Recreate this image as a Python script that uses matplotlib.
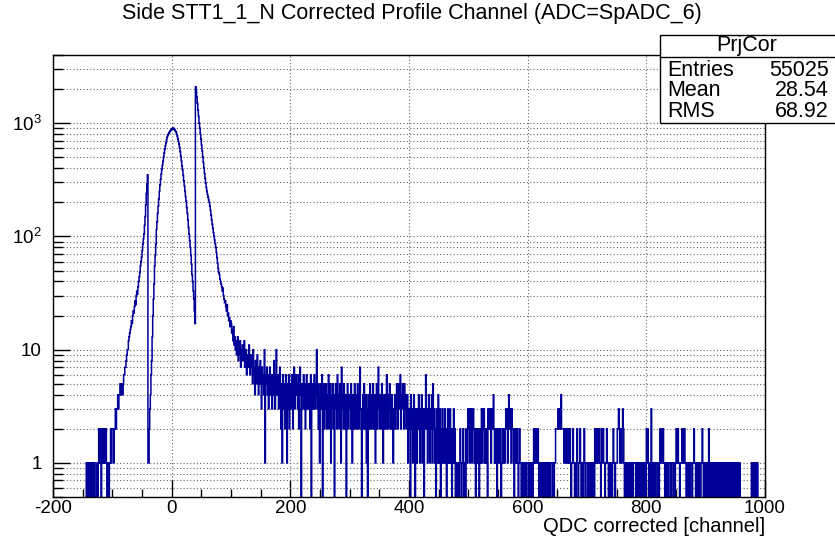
import matplotlib
matplotlib.use("Agg")
import matplotlib.pyplot as plt
import matplotlib.patches as patches
from matplotlib.ticker import MultipleLocator, LogLocator, FixedLocator, FixedFormatter, NullFormatter
import numpy as np

plt.rcParams['font.family'] = ['Liberation Sans', 'DejaVu Sans']
plt.rcParams['axes.unicode_minus'] = False

title = "Side STT1_1_N Corrected Profile Channel (ADC=SpADC_6)"
xlabel = "QDC corrected [channel]"
stat_name = "PrjCor"
stat_labels = ["Entries", "Mean", "RMS"]
stat_values = ["55025", "28.54", "68.92"]

# histogram starts at channel -150, one channel per bin
first_bin = -150
counts_peak = [
    0, 0, 0, 0, 0, 0, 1, 0, 1, 1,
    0, 1, 1, 0, 1, 0, 1, 1, 0, 1,
    1, 0, 0, 0, 1, 0, 1, 2, 1, 2,
    2, 0, 2, 1, 2, 2, 1, 2, 1, 2,
    1, 0, 1, 1, 0, 1, 1, 2, 1, 2,
    2, 2, 1, 2, 2, 3, 2, 3, 3, 4,
    3, 4, 4, 5, 4, 5, 5, 4, 5, 6,
    6, 7, 7, 8, 9, 10, 10, 12, 13, 14,
    15, 16, 18, 17, 20, 22, 21, 24, 27, 25,
    30, 33, 31, 36, 40, 44, 48, 55, 60, 66,
    75, 85, 95, 105, 125, 150, 190, 240, 290, 350,
    1, 1, 2, 3, 4, 6, 8, 13, 20, 28,
    38, 55, 68, 85, 115, 135, 160, 185, 215, 250,
    285, 320, 355, 390, 425, 460, 500, 545, 590, 630,
    670, 715, 750, 780, 800, 820, 835, 850, 865, 880,
    890, 900, 905, 900, 885, 865, 850, 835, 800, 770,
    730, 690, 650, 610, 560, 510, 465, 420, 385, 345,
    310, 280, 250, 225, 205, 180, 160, 140, 120, 105,
    92, 80, 68, 57, 46, 40, 33, 28, 22, 17,
    2100, 1900, 1700, 1500, 1300, 1150, 1000, 900, 800, 720,
    640, 570, 505, 450, 400, 360, 325, 295, 270, 250,
    235, 222, 210, 200, 185, 170, 155, 140, 128, 118,
    108, 100, 93, 86, 80, 72, 65, 58, 52, 48,
    46, 42, 40, 38, 36, 33, 35, 30, 28, 26,
    27, 24, 22, 25, 20, 21, 18, 19, 16, 18,
]
counts_mid = [
    17, 14, 15, 12, 16, 11, 13, 10, 12, 9,
    11, 13, 8, 10, 9, 12, 7, 10, 8, 11,
    9, 8, 12, 7, 9, 10, 6, 8, 9, 7,
    11, 8, 6, 9, 7, 8, 5, 10, 6, 7,
    4, 8, 6, 5, 9, 6, 4, 7, 5, 8,
    6, 3, 7, 5, 6, 4, 10, 1, 6, 5,
    7, 4, 6, 3, 5, 7, 4, 6, 5, 3,
    6, 4, 8, 5, 3, 6, 10, 4, 5, 6,
    3, 5, 7, 4, 2, 5, 1, 6, 4, 3,
    5, 2, 6, 4, 1, 5, 3, 6, 2, 4,
]
# channels 200..999, one hex digit per bin
counts_tail = (
    "5364257346" "4536247503" "5463524635" "4352604534" "6354a35241"
    "5346035243" "5243623514" "3524035426" "3425317342" "5324035243"
    "4253142352" "3425324732" "0342532413" "0423524325" "3241352473"
    "2432531423" "4263243523" "2431324235" "4253462435" "4253423412"
    "3204231242" "0321324213" "2413203263" "2134213241" "5231203214"
    "2130213212" "3120231213" "2102131201" "1011012101" "1201102113"
    "3213231232" "1201212102" "1231323121" "2103232312" "3242121202"
    "2112101211" "2123231242" "3213221021" "2121012110" "1011011011"
    "1010110101" "2121221210" "1011010110" "1010110101" "1101011222"
    "2322324222" "2122122121" "1210112110" "1012101121" "0110121011"
    "1011010110" "1102121211" "2110212211" "0112110110" "1101211011"
    "1223211212" "3210110110" "1011011011" "1101101101" "0110110110"
    "2121011031" "1011011101" "1012122121" "1011011011" "1011101101"
    "2212110111" "2121211011" "0110111011" "2110110110" "1011210110"
    "1011021010" "1101010010" "1010010101" "0010100101" "0100101001"
    "0100100100" "0000000000" "0000000101" "1011010100" "0000000000"
)

counts = np.array(counts_peak + counts_mid + [int(c, 16) for c in counts_tail], dtype=float)
edges = np.arange(first_bin, first_bin + len(counts) + 1)

W, H = 835, 537
fig = plt.figure(figsize=(W / 100, H / 100), dpi=100)
ax = fig.add_axes([53 / W, 1 - 497 / H, (765 - 53) / W, (497 - 55) / H])

# empty bins fall below the frame like ROOT does on a log axis
ax.stairs(np.where(counts > 0, counts, 0.05), edges, baseline=None,
          color='#000099', lw=1.1)

ax.set_yscale('log')
ax.set_xlim(-200, 1000)
ax.set_ylim(0.5, 4000)

ax.xaxis.set_major_locator(MultipleLocator(200))
ax.xaxis.set_minor_locator(MultipleLocator(50))
ax.yaxis.set_major_locator(FixedLocator([1, 10, 100, 1000]))
ax.yaxis.set_major_formatter(FixedFormatter(["1", "10", r"$\mathregular{10^{2}}$", r"$\mathregular{10^{3}}$"]))
ax.yaxis.set_minor_locator(LogLocator(base=10, subs=np.arange(2, 10), numticks=20))
ax.yaxis.set_minor_formatter(NullFormatter())

ax.tick_params(which='both', direction='in', top=False, right=False, labelsize=13.5, width=1)
ax.tick_params(axis='x', which='major', length=12, pad=2)
ax.tick_params(axis='x', which='minor', length=6)
ax.tick_params(axis='y', which='major', length=12, pad=8)
ax.tick_params(axis='y', which='minor', length=7)

ax.grid(True, which='major', axis='x', color='#666666', lw=0.8, linestyle=(0, (1, 2)))
ax.grid(True, which='both', axis='y', color='#666666', lw=0.8, linestyle=(0, (1, 2)))
ax.set_axisbelow(True)
for s in ax.spines.values():
    s.set_linewidth(1)

fig.text(0.493, 1 - 13 / H, title, ha='center', va='center', fontsize=15.5)
fig.text(765 / W, 1 - 527 / H, xlabel, ha='right', va='center', fontsize=14.5)

# stats box
box = patches.Rectangle((660 / W, 1 - 123 / H), 180 / W, 88 / H, transform=fig.transFigure,
                        facecolor='white', edgecolor='black', lw=1, zorder=10)
fig.add_artist(box)
fig.add_artist(plt.Line2D([660 / W, 1], [1 - 57 / H, 1 - 57 / H], transform=fig.transFigure,
                          color='black', lw=1, zorder=11))
fig.text(747 / W, 1 - 46 / H, stat_name, ha='center', va='center', fontsize=15.5, zorder=12)
for i, (lab, val) in enumerate(zip(stat_labels, stat_values)):
    y = 1 - (70 + 20.5 * i) / H
    fig.text(667 / W, y, lab, ha='left', va='center', fontsize=15.5, zorder=12)
    fig.text(829 / W, y, val, ha='right', va='center', fontsize=15.5, zorder=12)

fig.savefig("out.png", dpi=100)
